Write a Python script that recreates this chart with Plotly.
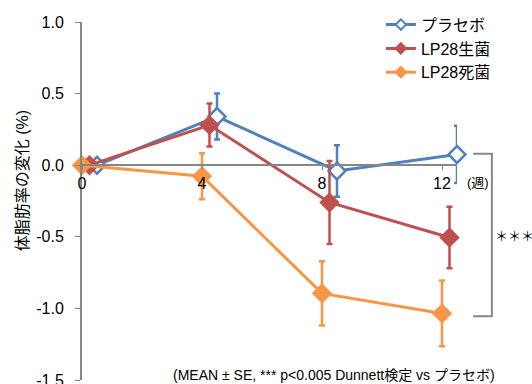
import plotly.graph_objects as go

# Weeks of intake and change in body-fat percentage (mean ± SE)
weeks = [0, 4, 8, 12]
series_names = ["プラセボ", "LP28生菌", "LP28死菌"]
placebo_mean = [0.0, 0.34, -0.04, 0.075]
placebo_se = [0.0, 0.16, 0.18, 0.20]
live_mean = [0.0, 0.28, -0.26, -0.505]
live_se = [0.0, 0.15, 0.29, 0.215]
killed_mean = [0.0, -0.077, -0.895, -1.035]
killed_se = [0.0, 0.16, 0.225, 0.23]
y_ticks = [1.0, 0.5, 0.0, -0.5, -1.0, -1.5]
x_ticks = [0, 4, 8, 12]

Y_MIN, Y_MAX = -1.5, 1.0
FONT = "Liberation Sans, Noto Sans CJK JP, sans-serif"
AXIS_GREY = "#868686"

# small horizontal dodge so the three groups do not overlap
dodge = {"プラセボ": 0.5, "LP28生菌": 0.25, "LP28死菌": 0.0}
styles = {
    "プラセボ": dict(color="#4F81BD", fill="white", mean=placebo_mean, se=placebo_se),
    "LP28生菌": dict(color="#C0504D", fill="#C0504D", mean=live_mean, se=live_se),
    "LP28死菌": dict(color="#F79646", fill="#F79646", mean=killed_mean, se=killed_se),
}

fig = go.Figure()
for name in series_names:
    s = styles[name]
    fig.add_trace(go.Scatter(
        x=[w + dodge[name] for w in weeks],
        y=s["mean"],
        name=name,
        legendgroup=name,
        showlegend=False,
        mode="lines+markers",
        line=dict(color=s["color"], width=3),
        marker=dict(symbol="diamond", size=13, color=s["fill"], line=dict(color=s["color"], width=2.5)),
        error_y=dict(type="data", array=s["se"], visible=True, color=s["color"], thickness=2.5, width=3),
        cliponaxis=False,
    ))

# legend entries with the smaller key markers
for name in series_names:
    s = styles[name]
    fig.add_trace(go.Scatter(
        x=[None], y=[None], name=name, legendgroup=name, mode="lines+markers",
        line=dict(color=s["color"], width=3),
        marker=dict(symbol="diamond", size=8, color=s["fill"], line=dict(color=s["color"], width=2)),
    ))

fig.update_layout(
    width=532, height=384,
    margin=dict(l=82, r=75, t=22, b=3.5, autoexpand=False),
    paper_bgcolor="white", plot_bgcolor="white",
    font=dict(family=FONT, size=16, color="#000000"),
    showlegend=True,
    legend=dict(x=0.797, y=1.04, xanchor="left", yanchor="top", bgcolor="rgba(0,0,0,0)",
                font=dict(size=16), tracegroupgap=0),
    xaxis=dict(range=[0, 12.5], tickvals=x_ticks, ticktext=[str(t) for t in x_ticks],
               showline=True, linecolor=AXIS_GREY, linewidth=1.5,
               ticks="outside", ticklen=4, tickcolor=AXIS_GREY, tickwidth=1,
               showgrid=False, zeroline=False, anchor="free", automargin=False,
               position=(0.0 - Y_MIN) / (Y_MAX - Y_MIN),
               tickfont=dict(size=16)),
    yaxis=dict(range=[Y_MIN, Y_MAX], tickvals=y_ticks, ticktext=[f"{t:.1f}" for t in y_ticks],
               showline=True, linecolor=AXIS_GREY, linewidth=2,
               ticks="outside", ticklen=5, tickcolor=AXIS_GREY, tickwidth=1,
               ticklabelstandoff=8, ticklabeloverflow="allow", automargin=False,
               showgrid=False, zeroline=False, tickfont=dict(size=16)),
)

# y-axis title
fig.add_annotation(text="体脂肪率の変化 (%)", xref="paper", yref="paper", x=-0.16, y=0.555,
                   textangle=-90, showarrow=False, font=dict(size=16), xanchor="center", yanchor="middle")
# unit label for the week axis
fig.add_annotation(text="(週)", xref="paper", yref="y", x=1.02, y=-0.12,
                   showarrow=False, font=dict(size=13), xanchor="left", yanchor="middle")

# significance bracket from placebo to LP28 killed at week 12
bx0, bx1 = 1.043, 1.093
fig.add_shape(type="path", xref="paper", yref="y",
              path=f"M {bx0},0.08 L {bx1},0.08 L {bx1},-1.055 L {bx0},-1.055",
              line=dict(color=AXIS_GREY, width=2))
fig.add_annotation(text="＊＊＊", xref="paper", yref="y", x=1.095, y=-0.5,
                   showarrow=False, font=dict(size=13), xanchor="left", yanchor="middle")

# footnote
fig.add_annotation(text="(MEAN ± SE, *** p<0.005 Dunnett検定 vs プラセボ)", xref="paper", yref="paper",
                   x=1.107, y=0.015, showarrow=False, font=dict(size=14), xanchor="right", yanchor="middle")

fig.write_html("out.html")
